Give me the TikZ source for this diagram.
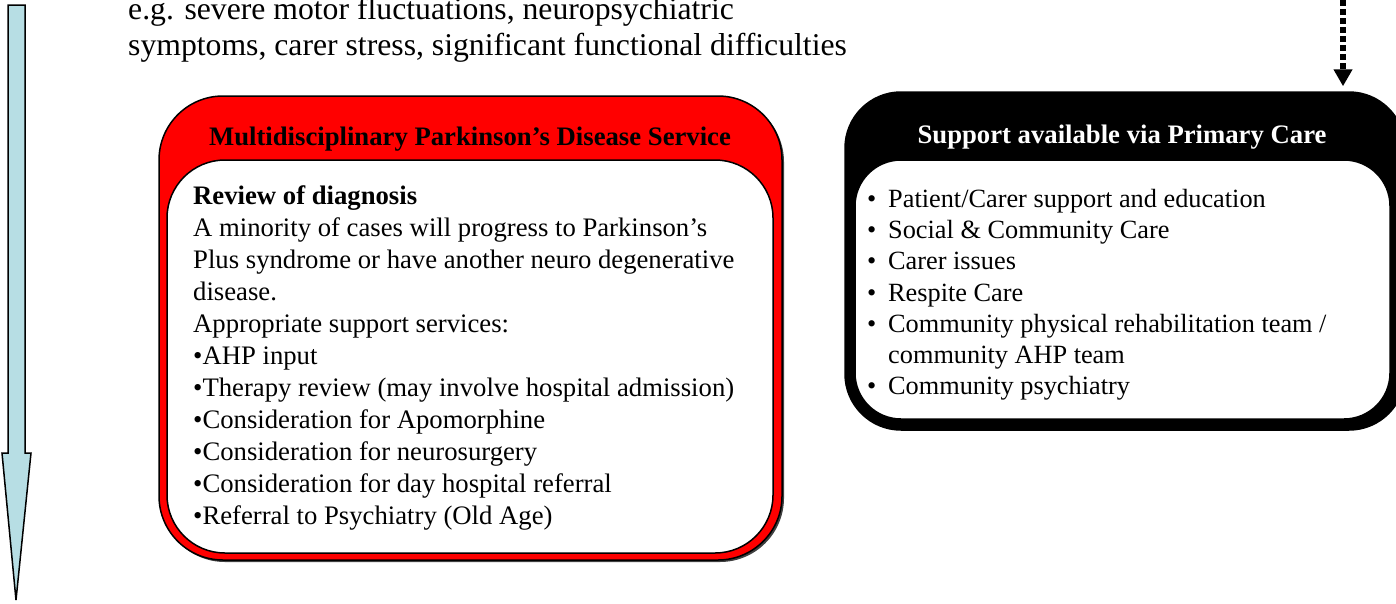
\documentclass[tikz,border=0pt]{standalone}
\usepackage{fontspec}
\setmainfont{Liberation Serif}
\usetikzlibrary{arrows.meta}
\definecolor{arrowblue}{RGB}{183,222,228}
\definecolor{boxred}{RGB}{255,0,0}
\begin{document}
\begin{tikzpicture}[x=1pt,y=-1pt,
  shadowbox/.style={rectangle, rounded corners=#1, fill=black!75, inner sep=0pt},
  outerbox/.style={rectangle, rounded corners=#1, draw=black, line width=1.5pt, inner sep=0pt},
  innerbox/.style={rectangle, rounded corners=#1, draw=black, line width=1.5pt, fill=white, inner sep=0pt},
  headtext/.style={font={\fontsize{26.7}{30}\selectfont\bfseries}, inner sep=0pt},
  bodytext/.style={align=left, inner sep=0pt, anchor=north west},
  timearrow/.style={draw=black, line width=1.5pt, fill=arrowblue, line join=miter},
  dotarrow/.style={line width=6pt, dash pattern=on 5.5pt off 3.5pt, -{Triangle[width=18pt,length=17pt]}}]
\useasboundingbox (0,0) rectangle (1396,603);

% timeline arrow
\draw[timearrow] (8,5) -- (25,5) -- (25,453) -- (31,453) -- (16,600) -- (2,453) -- (8,453) -- cycle;

% top text
\node[bodytext, font={\fontsize{31.7}{36}\selectfont}] (toptext) at (128,-3)
  {e.g. severe motor fluctuations, neuropsychiatric\\symptoms, carer stress, significant functional difficulties};

% red box
\node[shadowbox=64pt, minimum width=623pt, minimum height=464pt] (mdsshadow) at (472.5,330) {};
\node[outerbox=64pt, fill=boxred, minimum width=623pt, minimum height=464pt] (mdsouter) at (470.5,328) {};
\node[innerbox=58pt, minimum width=606pt, minimum height=393pt] (mdsinner) at (470,356.5) {};
\node[headtext] (mdshead) at (470,139) {Multidisciplinary Parkinson’s Disease Service};
\node[bodytext, font={\fontsize{26.7}{32}\selectfont}] (mdsbody) at (193,185)
  {\textbf{Review of diagnosis}\\
   A minority of cases will progress to Parkinson’s\\
   Plus syndrome or have another neuro degenerative\\
   disease.\\
   Appropriate support services:\\
   •AHP input\\
   •Therapy review (may involve hospital admission)\\
   •Consideration for Apomorphine\\
   •Consideration for neurosurgery\\
   •Consideration for day hospital referral\\
   •Referral to Psychiatry (Old Age)};

% black box
\node[outerbox=56pt, fill=black, minimum width=560pt, minimum height=338pt] (pcouter) at (1125,261) {};
\node[innerbox=46pt, minimum width=535pt, minimum height=259pt] (pcinner) at (1122.5,289.5) {};
\node[headtext, text=white] (pchead) at (1122,137) {Support available via Primary Care};
\node[bodytext, font={\fontsize{26.3}{31.2}\selectfont}] (pcbody) at (867,189)
  {\makebox[21pt][l]{•}Patient/Carer support and education\\
   \makebox[21pt][l]{•}Social \& Community Care\\
   \makebox[21pt][l]{•}Carer issues\\
   \makebox[21pt][l]{•}Respite Care\\
   \makebox[21pt][l]{•}Community physical rehabilitation team /\\
   \hspace*{21pt}community AHP team\\
   \makebox[21pt][l]{•}Community psychiatry};

% dotted arrow
\coordinate (dtop) at (1343,0);
\draw[dotarrow, shorten >=5pt] (dtop) -- (dtop |- pcouter.north);
\end{tikzpicture}
\end{document}
